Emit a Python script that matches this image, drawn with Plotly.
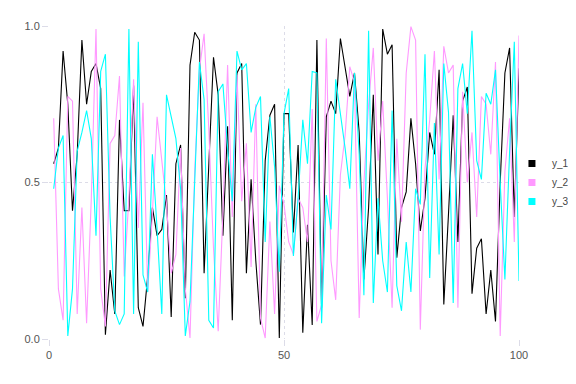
import plotly.graph_objects as go

x_vals = list(range(1, 101))

y_1 = [0.56, 0.61, 0.92, 0.75, 0.41, 0.59, 0.955, 0.75, 0.855, 0.88,
       0.80, 0.014, 0.22, 0.08, 0.70, 0.41, 0.41, 0.81, 0.10, 0.04,
       0.20, 0.42, 0.33, 0.35, 0.46, 0.07, 0.56, 0.62, 0.13, 0.875,
       0.98, 0.955, 0.21, 0.55, 0.90, 0.78, 0.33, 0.68, 0.06, 0.85,
       0.88, 0.21, 0.51, 0.25, 0.046, 0.57, 0.715, 0.75, 0.003, 0.72,
       0.72, 0.34, 0.62, 0.02, 0.365, 0.045, 0.955, 0.10, 0.71, 0.76,
       0.72, 0.96, 0.865, 0.775, 0.85, 0.66, 0.19, 0.42, 0.78, 0.27,
       0.99, 0.91, 0.94, 0.26, 0.42, 0.47, 0.705, 0.56, 0.345, 0.45,
       0.66, 0.59, 0.86, 0.11, 0.40, 0.715, 0.31, 0.76, 0.805, 0.145,
       0.29, 0.32, 0.08, 0.22, 0.056, 0.50, 0.85, 0.93, 0.39, 0.865]

y_2 = [0.705, 0.16, 0.06, 0.775, 0.76, 0.08, 0.42, 0.05, 0.45, 0.99,
       0.16, 0.04, 0.625, 0.65, 0.84, 0.20, 0.45, 0.83, 0.355, 0.755,
       0.15, 0.40, 0.71, 0.58, 0.43, 0.21, 0.27, 0.61, 0.16, 0.003,
       0.535, 0.86, 0.975, 0.67, 0.29, 0.025, 0.40, 0.875, 0.39, 0.845,
       0.44, 0.625, 0.23, 0.75, 0.067, 0.003, 0.375, 0.08, 0.49, 0.43,
       0.31, 0.27, 0.45, 0.42, 0.31, 0.735, 0.056, 0.11, 0.96, 0.25,
       0.125, 0.525, 0.65, 0.87, 0.82, 0.067, 0.50, 0.75, 0.93, 0.57,
       0.76, 0.45, 0.10, 0.64, 0.375, 0.85, 0.998, 0.955, 0.03, 0.545,
       0.70, 0.92, 0.51, 0.935, 0.85, 0.875, 0.10, 0.79, 0.50, 0.66,
       0.39, 0.775, 0.75, 0.59, 0.885, 0.01, 0.535, 0.705, 0.31, 0.97]

y_3 = [0.48, 0.61, 0.65, 0.01, 0.16, 0.60, 0.66, 0.73, 0.64, 0.33,
       0.855, 0.91, 0.39, 0.09, 0.046, 0.08, 0.99, 0.08, 0.95, 0.205,
       0.15, 0.59, 0.35, 0.08, 0.78, 0.71, 0.64, 0.48, 0.01, 0.12,
       0.525, 0.885, 0.765, 0.06, 0.035, 0.79, 0.815, 0.61, 0.44, 0.92,
       0.86, 0.88, 0.66, 0.74, 0.775, 0.31, 0.71, 0.55, 0.215, 0.72,
       0.80, 0.265, 0.45, 0.70, 0.56, 0.855, 0.85, 0.05, 0.46, 0.35,
       0.83, 0.72, 0.61, 0.48, 0.85, 0.59, 0.14, 0.985, 0.115, 0.45,
       0.25, 0.15, 0.73, 0.17, 0.09, 0.31, 0.15, 0.48, 0.43, 0.91,
       0.195, 0.69, 0.27, 0.88, 0.725, 0.115, 0.80, 0.88, 0.72, 0.985,
       0.57, 0.51, 0.785, 0.75, 0.86, 0.50, 0.19, 0.60, 0.95, 0.185]

series = {"y_1": y_1, "y_2": y_2, "y_3": y_3}
colors = {"y_1": "#000000", "y_2": "#ff99ff", "y_3": "#00ffff"}

x_ticks = [0, 50, 100]
y_ticks = [0.0, 0.5, 1.0]
y_tick_text = ["0.0", "0.5", "1.0"]

fig = go.Figure()
for name, vals in series.items():
    fig.add_trace(go.Scatter(x=x_vals, y=vals, mode="lines", name=name,
                             line=dict(color=colors[name], width=1.1),
                             showlegend=False))
for name in series:
    fig.add_trace(go.Scatter(x=[None], y=[None], mode="markers", name=name,
                             marker=dict(symbol="square", size=7, color=colors[name]),
                             showlegend=True))

grid = "#dcdce8"
fig.update_layout(
    width=568, height=376,
    margin=dict(l=41, r=57, t=18, b=45, autoexpand=False),
    paper_bgcolor="white", plot_bgcolor="white",
    font=dict(family="Liberation Sans, Arial, sans-serif", size=11, color="#555"),
    legend=dict(x=0.985, y=0.5, xanchor="left", yanchor="middle",
                font=dict(size=10, color="#444"), tracegroupgap=0,
                itemwidth=30, bgcolor="rgba(0,0,0,0)"),
    xaxis=dict(range=[0, 100], tickvals=x_ticks, showgrid=True, gridcolor=grid,
               griddash="dot", gridwidth=1, zeroline=False, showline=False,
               ticks="outside", ticklen=6, tickcolor=grid, automargin=False),
    yaxis=dict(range=[0, 1], tickvals=y_ticks, ticktext=y_tick_text, showgrid=True,
               gridcolor=grid, griddash="dot", gridwidth=1, zeroline=False,
               showline=False, ticks="outside", ticklen=6, tickcolor=grid,
               automargin=False),
)

fig.write_html("out.html")
